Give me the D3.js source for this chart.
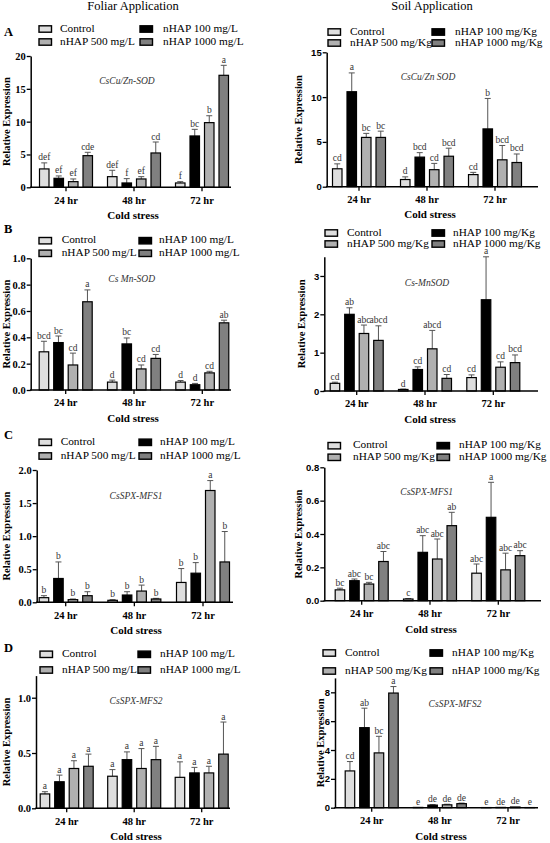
<!DOCTYPE html>
<html>
<head>
<meta charset="utf-8">
<script src="https://cdn.jsdelivr.net/npm/d3@7"></script>
<style>
  html, body { margin: 0; padding: 0; background: #fff; }
  svg { display: block; }
</style>
</head>
<body>
<script>
// categories
const groups = ['24 hr', '48 hr', '72 hr']
const foliarSeries = ['Control', 'nHAP 100 mg/L', 'nHAP 500 mg/L', 'nHAP 1000 mg/L']
const soilSeries = ['Control', 'nHAP 100 mg/Kg', 'nHAP 500 mg/Kg', 'nHAP 1000 mg/Kg']

// values: one row per time point, columns in series order
const foliarSodMean = [[2.8, 1.37, 0.86, 4.82], [1.62, 0.66, 1.27, 5.23], [0.66, 7.82, 9.85, 17.06]]
const foliarSodErr = [[0.92, 0.36, 0.41, 0.51], [0.97, 0.66, 0.35, 1.67], [0.2, 1.01, 1.05, 1.52]]
const foliarSodSig = [['def', 'ef', 'ef', 'cde'], ['def', 'f', 'ef', 'cd'], ['f', 'bc', 'b', 'a']]

const foliarMnMean = [[0.29, 0.36, 0.19, 0.67], [0.06, 0.35, 0.16, 0.24], [0.06, 0.04, 0.13, 0.51]]
const foliarMnErr = [[0.08, 0.05, 0.09, 0.09], [0.015, 0.045, 0.03, 0.03], [0.012, 0.01, 0.012, 0.02]]
const foliarMnSig = [['bcd', 'bc', 'cd', 'a'], ['d', 'bc', 'cd', 'cd'], ['d', 'd', 'cd', 'ab']]

const foliarMfs1Mean = [[0.07, 0.36, 0.04, 0.1], [0.03, 0.11, 0.17, 0.05], [0.3, 0.44, 1.69, 0.61]]
const foliarMfs1Err = [[0.03, 0.25, 0.01, 0.06], [0.01, 0.05, 0.09, 0.01], [0.21, 0.16, 0.15, 0.46]]
const foliarMfs1Sig = [['b', 'b', 'b', 'b'], ['b', 'b', 'b', 'b'], ['b', 'b', 'a', 'b']]

const foliarMfs2Mean = [[0.13, 0.24, 0.36, 0.38], [0.29, 0.44, 0.36, 0.44], [0.28, 0.32, 0.32, 0.49]]
const foliarMfs2Err = [[0.02, 0.06, 0.07, 0.11], [0.06, 0.07, 0.18, 0.12], [0.14, 0.05, 0.06, 0.29]]
const foliarMfs2Sig = [['a', 'a', 'a', 'a'], ['a', 'a', 'a', 'a'], ['a', 'a', 'a', 'a']]

const soilSodMean = [[2.0, 10.6, 5.5, 5.5], [0.8, 3.3, 1.9, 3.4], [1.35, 6.45, 3.0, 2.7]]
const soilSodErr = [[0.55, 2.1, 0.45, 0.7], [0.3, 0.5, 0.7, 0.9], [0.25, 3.4, 1.6, 0.95]]
const soilSodSig = [['cd', 'a', 'bc', 'bc'], ['d', 'bcd', 'cd', 'bcd'], ['cd', 'b', 'bcd', 'bcd']]

const soilMnMean = [[0.2, 2.0, 1.5, 1.32], [0.04, 0.56, 1.1, 0.33], [0.35, 2.38, 0.62, 0.74]]
const soilMnErr = [[0.03, 0.17, 0.22, 0.38], [0.01, 0.07, 0.48, 0.1], [0.07, 1.12, 0.14, 0.2]]
const soilMnSig = [['cd', 'ab', 'abc', 'abcd'], ['d', 'cd', 'abcd', 'cd'], ['cd', 'a', 'cd', 'bcd']]

const soilMfs1Mean = [[0.065, 0.12, 0.1, 0.235], [0.01, 0.29, 0.25, 0.45], [0.165, 0.5, 0.185, 0.27]]
const soilMfs1Err = [[0.01, 0.01, 0.01, 0.06], [0.003, 0.1, 0.12, 0.08], [0.055, 0.21, 0.1, 0.03]]
const soilMfs1Sig = [['bc', 'abc', 'bc', 'abc'], ['c', 'abc', 'abc', 'ab'], ['abc', 'a', 'abc', 'abc']]

const soilMfs2Mean = [[2.55, 5.55, 3.8, 7.95], [0.02, 0.18, 0.2, 0.28], [0.01, 0.02, 0.05, 0.01]]
const soilMfs2Err = [[0.65, 1.35, 1.15, 0.45], [0, 0.03, 0.04, 0.04], [0, 0, 0, 0]]
const soilMfs2Sig = [['cd', 'ab', 'bc', 'a'], ['e', 'de', 'de', 'de'], ['e', 'de', 'de', 'e']]

// tick labels
const ticksSodFoliar = [0, 5, 10, 15, 20]
const ticksMnFoliar = [0, 0.2, 0.4, 0.6, 0.8, 1.0]
const ticksMfs1Foliar = [0, 0.5, 1.0, 1.5, 2.0]
const ticksMfs2Foliar = [0, 0.5, 1.0]
const ticksSodSoil = [0, 5, 10, 15]
const ticksMnSoil = [0, 1, 2, 3]
const ticksMfs1Soil = [0, 0.2, 0.4, 0.6, 0.8]
const ticksMfs2Soil = [0, 2, 4, 6, 8]

const fills = ['#dedede', '#000000', '#b0b0b0', '#808080']
const SERIF = "'Liberation Serif', 'Times New Roman', serif"
const SANS = "'Liberation Sans', Arial, sans-serif"

const width = 550
const height = 843

const svg = d3.select('body').append('svg')
  .attr('xmlns', 'http://www.w3.org/2000/svg')
  .attr('width', width)
  .attr('height', height)

// text helper: family, size, weight, style
function txt (sel, family, size, weight = 'normal', fstyle = 'normal') {
  return sel.attr('font-family', family).attr('font-size', size)
    .attr('font-weight', weight).attr('font-style', fstyle)
}

// layout of each panel (pixel positions only)
const panels = [
  { gene: 'CsCu/Zn-SOD', series: foliarSeries, mean: foliarSodMean, err: foliarSodErr, sig: foliarSodSig,
    ticks: ticksSodFoliar, max: 20, fmt: d3.format('d'), tickFont: SERIF,
    ax: 30.7, xEnd: 231, y0: 187.3, y1: 56, c0: 66, c2: 202,
    leg: { r1: 29, r2: 42, s1: 39, t1: 60, s2: 140, t2: 163 },
    geneAt: [127, 82], coldAt: [133, 216], yTitleX: 8, tag: ['A', 33] },
  { gene: 'Cs Mn-SOD', series: foliarSeries, mean: foliarMnMean, err: foliarMnErr, sig: foliarMnSig,
    ticks: ticksMnFoliar, max: 1.0, fmt: d3.format('.1f'), tickFont: SERIF,
    ax: 30.7, xEnd: 231, y0: 390, y1: 258.3, c0: 65.7, c2: 202.3,
    leg: { r1: 240.7, r2: 253.3, s1: 39, t1: 61.7, s2: 139, t2: 159 },
    geneAt: [131.7, 280], coldAt: [133, 419], yTitleX: 8, tag: ['B', 230] },
  { gene: 'CsSPX-MFS1', series: foliarSeries, mean: foliarMfs1Mean, err: foliarMfs1Err, sig: foliarMfs1Sig,
    ticks: ticksMfs1Foliar, max: 2.0, fmt: d3.format('.1f'), tickFont: SERIF,
    ax: 36.7, xEnd: 233, y0: 602.3, y1: 470, c0: 65.7, c2: 203,
    leg: { r1: 442.3, r2: 456, s1: 39, t1: 60.7, s2: 139, t2: 160 },
    geneAt: [136, 497], coldAt: [136, 631], yTitleX: 8, tag: ['C', 435.7] },
  { gene: 'CsSPX-MFS2', series: foliarSeries, mean: foliarMfs2Mean, err: foliarMfs2Err, sig: foliarMfs2Sig,
    ticks: ticksMfs2Foliar, max: 1.2, fmt: d3.format('.1f'), tickFont: SERIF,
    ax: 36, xEnd: 230, y0: 808.3, y1: 675.6, c0: 66.7, c2: 201.7,
    leg: { r1: 654.3, r2: 670, s1: 40, t1: 62, s2: 138, t2: 160 },
    geneAt: [136, 701.7], coldAt: [136, 837], yTitleX: 8, tag: ['D', 649] },
  { gene: 'CsCu/Zn SOD', series: soilSeries, mean: soilSodMean, err: soilSodErr, sig: soilSodSig,
    ticks: ticksSodSoil, max: 15, fmt: d3.format('d'), tickFont: SANS,
    ax: 326.7, xEnd: 538, y0: 186.7, y1: 52.3, c0: 359, c2: 495,
    leg: { r1: 32, r2: 43, s1: 328, t1: 350, s2: 432, t2: 455 },
    geneAt: [428, 77.7], coldAt: [430, 215], yTitleX: 300 },
  { gene: 'Cs-MnSOD', series: soilSeries, mean: soilMnMean, err: soilMnErr, sig: soilMnSig,
    ticks: ticksMnSoil, max: 3.5, fmt: d3.format('d'), tickFont: SANS,
    ax: 324.3, xEnd: 538, y0: 391, y1: 256.8, c0: 356.7, c2: 493.3,
    leg: { r1: 233, r2: 244, s1: 325, t1: 347, s2: 432, t2: 453 },
    geneAt: [427, 284], coldAt: [430, 420], yTitleX: 303 },
  { gene: 'CsSPX-MFS1', series: soilSeries, mean: soilMfs1Mean, err: soilMfs1Err, sig: soilMfs1Sig,
    ticks: ticksMfs1Soil, max: 0.8, fmt: d3.format('.1f'), tickFont: SANS,
    ax: 324.3, xEnd: 541, y0: 600.7, y1: 467.3, c0: 361.7, c2: 498.3,
    leg: { r1: 445.7, r2: 457.3, s1: 328, t1: 353, s2: 437, t2: 459 },
    geneAt: [426.7, 493.3], coldAt: [431, 630], yTitleX: 300 },
  { gene: 'CsSPX-MFS2', series: soilSeries, mean: soilMfs2Mean, err: soilMfs2Err, sig: soilMfs2Sig,
    ticks: ticksMfs2Soil, max: 9, fmt: d3.format('d'), tickFont: SANS,
    ax: 335, xEnd: 538, y0: 807.7, y1: 677.9, c0: 371.7, c2: 508,
    leg: { r1: 653, r2: 671, s1: 323, t1: 345, s2: 430, t2: 452 },
    geneAt: [455, 705], coldAt: [441, 837], yTitleX: 322 }
]

// column titles
txt(svg.append('text'), SERIF, 12.5).attr('x', 133).attr('y', 7.5)
  .attr('text-anchor', 'middle').attr('dominant-baseline', 'middle')
  .text('Foliar Application')
txt(svg.append('text'), SERIF, 12.5).attr('x', 432).attr('y', 7.5)
  .attr('text-anchor', 'middle').attr('dominant-baseline', 'middle')
  .text('Soil Application')

function drawPanel (p) {
  const g = svg.append('g')
  const step = (p.c2 - p.c0) / 2
  const x = d3.scaleBand().domain(groups).range([p.c0 - step / 2, p.c2 + step / 2])
  const inner = d3.scaleBand().domain(p.series).range([-26.5, 26.5]).paddingInner(0.345)
  const y = d3.scaleLinear().domain([0, p.max]).range([p.y0, p.y1])

  if (p.tag) {
    txt(g.append('text'), SERIF, 12.5, 'bold').attr('x', 4).attr('y', p.tag[1])
      .attr('dominant-baseline', 'middle').text(p.tag[0])
  }

  // legend
  const L = p.leg
  const spots = [[L.s1, L.t1, L.r1], [L.s2, L.t2, L.r1], [L.s1, L.t1, L.r2], [L.s2, L.t2, L.r2]]
  p.series.forEach((s, i) => {
    const [sx, tx, ry] = spots[i]
    g.append('rect').attr('x', sx).attr('y', ry - 3.2).attr('width', 12.5).attr('height', 6.4)
      .attr('fill', fills[i]).attr('stroke', '#000').attr('stroke-width', 1.4)
    txt(g.append('text'), SERIF, 11.3).attr('x', tx).attr('y', ry)
      .attr('dominant-baseline', 'middle').text(s)
  })

  // bars
  const rows = []
  groups.forEach((grp, gi) => {
    p.series.forEach((s, si) => {
      rows.push({ grp, s, si, v: p.mean[gi][si], e: p.err[gi][si], sig: p.sig[gi][si] })
    })
  })
  const cx = d => x(d.grp) + x.bandwidth() / 2 + inner(d.s) + inner.bandwidth() / 2

  // error bars (upper only)
  const eb = g.append('g').attr('stroke', '#555').attr('stroke-width', 1)
  rows.filter(d => d.e > 0).forEach(d => {
    const c = cx(d)
    eb.append('line').attr('x1', c).attr('x2', c).attr('y1', y(d.v)).attr('y2', y(d.v + d.e))
    eb.append('line').attr('x1', c - 3).attr('x2', c + 3).attr('y1', y(d.v + d.e)).attr('y2', y(d.v + d.e))
  })

  g.append('g').selectAll('rect').data(rows).join('rect')
    .attr('x', d => cx(d) - inner.bandwidth() / 2)
    .attr('width', inner.bandwidth())
    .attr('y', d => y(d.v))
    .attr('height', d => Math.max(0, p.y0 - y(d.v)))
    .attr('fill', d => fills[d.si])
    .attr('stroke', '#000')
    .attr('stroke-width', 1.2)

  // significance letters
  txt(g.append('g'), SERIF, 9.5).attr('fill', '#333')
    .selectAll('text').data(rows).join('text')
    .attr('x', d => cx(d))
    .attr('y', d => y(d.v + d.e) - 2.5)
    .attr('text-anchor', 'middle')
    .text(d => d.sig)

  // y axis
  const yAxis = g.append('g').attr('transform', `translate(${p.ax},0)`)
    .call(d3.axisLeft(y).tickValues(p.ticks).tickFormat(p.fmt).tickSize(4).tickSizeOuter(0))
  yAxis.select('.domain').attr('stroke-width', 1.5)
  yAxis.selectAll('.tick line').attr('stroke-width', 1.3)
  txt(yAxis, p.tickFont, p.tickFont === SANS ? 9.5 : 10.5, 'bold')
  yAxis.selectAll('.tick text').attr('fill', '#000').attr('x', -5)

  // x axis
  const xAxis = g.append('g').attr('transform', `translate(0,${p.y0})`)
    .call(d3.axisBottom(x).tickSize(4).tickSizeOuter(0))
  xAxis.select('.domain').remove()
  xAxis.selectAll('.tick line').attr('stroke-width', 1.3)
  txt(xAxis, SERIF, 10.5, 'bold')
  xAxis.selectAll('.tick text').attr('fill', '#000').attr('y', 9)
  xAxis.append('line').attr('x1', p.ax - 0.75).attr('x2', p.xEnd).attr('y1', 0).attr('y2', 0)
    .attr('stroke', '#000').attr('stroke-width', 1.5)

  // titles
  txt(g.append('text'), SERIF, 9.5, 'normal', 'italic').attr('x', p.geneAt[0]).attr('y', p.geneAt[1])
    .attr('text-anchor', 'middle').attr('dominant-baseline', 'middle').attr('fill', '#333')
    .text(p.gene)
  txt(g.append('text'), SERIF, 11, 'bold').attr('x', p.coldAt[0]).attr('y', p.coldAt[1])
    .attr('text-anchor', 'middle').attr('dominant-baseline', 'middle')
    .text('Cold stress')
  txt(g.append('text'), SERIF, 10.5, 'bold')
    .attr('transform', `translate(${p.yTitleX},${(p.y0 + p.y1) / 2}) rotate(-90)`)
    .attr('text-anchor', 'middle').attr('dominant-baseline', 'middle')
    .text('Relative Expression')
}

panels.forEach(drawPanel)
</script>
</body>
</html>
